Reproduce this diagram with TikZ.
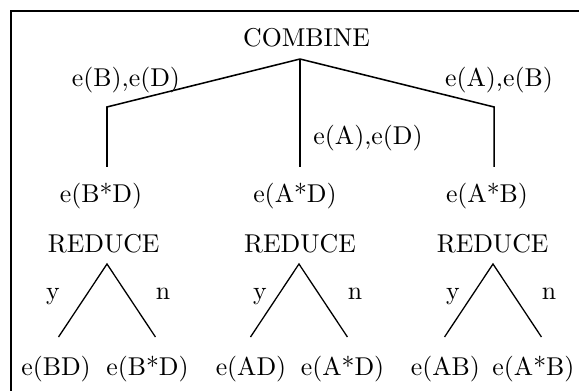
\documentclass[tikz,border=0pt]{standalone}
\usepackage{tikz}
\tikzset{
  lab/.style={inner sep=0pt,anchor=base},
  br/.style={line width=0.6pt},
  tri/.style={line width=0.5pt}
}

\begin{document}
\begin{tikzpicture}[x=1cm,y=1cm]
  \useasboundingbox (0,0) rectangle (7.896,5.332);
  \draw[line width=1pt] (0.15,-0.1) -- (0.15,5.182) -- (8.0,5.182);

  % combine
  \node[lab] (cmb) at (4.180,4.691) {COMBINE};
  \coordinate (ctop) at (4.091,4.527);
  \coordinate (kl) at (1.459,3.873);
  \coordinate (kr) at (6.737,3.873);
  \coordinate (el) at (1.459,3.055);
  \coordinate (em) at (4.091,3.055);
  \coordinate (er) at (6.737,3.055);
  \draw[br] (ctop) -- (kl) -- (el);
  \draw[br] (ctop) -- (em);
  \draw[br] (ctop) -- (kr) -- (er);
  \node[lab] (lbd) at (1.718,4.159) {e(B),e(D)};
  \node[lab] (lab) at (6.805,4.159) {e(A),e(B)};
  \node[lab,anchor=base west] (lad) at (4.268,3.355) {e(A),e(D)};

  \node[lab] (bd) at (1.377,2.564) {e(B*D)};
  \node[lab] (ad) at (4.023,2.564) {e(A*D)};
  \node[lab] (ab) at (6.641,2.564) {e(A*B)};

  % reduce
  \node[lab] (r1) at (1.414,1.882) {REDUCE};
  \node[lab] (r2) at (4.091,1.882) {REDUCE};
  \node[lab] (r3) at (6.718,1.882) {REDUCE};
  \coordinate (t1) at (1.459,1.732);
  \coordinate (t2) at (4.077,1.732);
  \coordinate (t3) at (6.723,1.732);
  \coordinate (f1y) at (0.798,0.736);
  \coordinate (f1n) at (2.120,0.736);
  \coordinate (f2y) at (3.416,0.736);
  \coordinate (f2n) at (4.738,0.736);
  \coordinate (f3y) at (6.062,0.736);
  \coordinate (f3n) at (7.384,0.736);
  \draw[tri] (f1y) -- (t1) -- (f1n);
  \draw[tri] (f2y) -- (t2) -- (f2n);
  \draw[tri] (f3y) -- (t3) -- (f3n);
  \node[lab] (y1) at (0.723,1.241) {y};
  \node[lab] (n1) at (2.223,1.241) {n};
  \node[lab] (y2) at (3.546,1.241) {y};
  \node[lab] (n2) at (4.841,1.241) {n};
  \node[lab] (y3) at (6.178,1.241) {y};
  \node[lab] (n3) at (7.487,1.241) {n};

  \node[lab] (o1y) at (0.764,0.205) {e(BD)};
  \node[lab] (o1n) at (2.011,0.205) {e(B*D)};
  \node[lab] (o2y) at (3.423,0.205) {e(AD)};
  \node[lab] (o2n) at (4.671,0.205) {e(A*D)};
  \node[lab] (o3y) at (6.075,0.205) {e(AB)};
  \node[lab] (o3n) at (7.275,0.205) {e(A*B)};
\end{tikzpicture}
\end{document}
